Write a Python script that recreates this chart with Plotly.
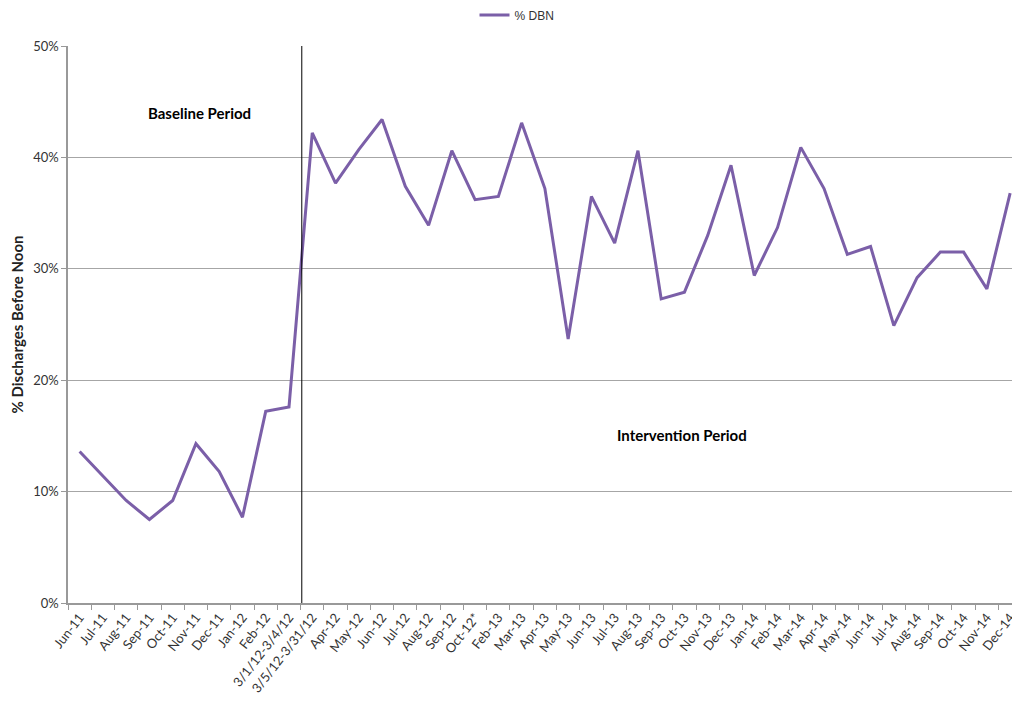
import plotly.graph_objects as go

categories = ["Jun-11", "Jul-11", "Aug-11", "Sep-11", "Oct-11", "Nov-11", "Dec-11",
              "Jan-12", "Feb-12", "3/1/12-3/4/12", "3/5/12-3/31/12", "Apr-12", "May-12",
              "Jun-12", "Jul-12", "Aug-12", "Sep-12", "Oct-12*", "Feb-13", "Mar-13",
              "Apr-13", "May-13", "Jun-13", "Jul-13", "Aug-13", "Sep-13", "Oct-13",
              "Nov-13", "Dec-13", "Jan-14", "Feb-14", "Mar-14", "Apr-14", "May-14",
              "Jun-14", "Jul-14", "Aug-14", "Sep-14", "Oct-14", "Nov-14", "Dec-14"]

dbn_pct = [13.6, 11.4, 9.2, 7.5, 9.2, 14.3, 11.8, 7.7, 17.2, 17.6,
           42.2, 37.7, 40.7, 43.4, 37.4, 33.9, 40.6, 36.2, 36.5, 43.1,
           37.2, 23.7, 36.5, 32.3, 40.6, 27.3, 27.9, 33.0, 39.3, 29.4,
           33.7, 40.9, 37.2, 31.3, 32.0, 24.9, 29.2, 31.5, 31.5, 28.2, 36.8]

y_ticks = [0, 10, 20, 30, 40, 50]
y_tick_labels = ["0%", "10%", "20%", "30%", "40%", "50%"]

# page is drawn with an 8px body margin; figure sized to fit the window without scrolling
W, H = 1004, 688
PL, PT, PB = 60, 38, 93
PW = W - PL
PH = H - PT - PB

fig = go.Figure()
fig.add_trace(go.Scatter(
    x=categories, y=dbn_pct, mode="lines", name="% DBN",
    line=dict(color="#7B5FA8", width=3),
))

fig.add_shape(type="line", xref="x", yref="paper", x0=9.55, x1=9.55, y0=0, y1=1,
              line=dict(color="#000000", width=1))

fig.add_annotation(text="<b>Baseline Period</b>", xref="paper", yref="paper",
                   x=(199 - 68) / PW, y=(603 - 113) / PH, showarrow=False,
                   xanchor="center", yanchor="middle",
                   font=dict(family="Lato", size=15, color="#000000"))
fig.add_annotation(text="<b>Intervention Period</b>", xref="paper", yref="paper",
                   x=(682 - 68) / PW, y=(603 - 435) / PH, showarrow=False,
                   xanchor="center", yanchor="middle",
                   font=dict(family="Lato", size=15, color="#000000"))

fig.update_layout(
    width=W, height=H,
    margin=dict(l=PL, r=0, t=PT, b=PB),
    paper_bgcolor="white", plot_bgcolor="white",
    showlegend=True,
    legend=dict(orientation="h", xref="container", yref="container",
                x=509 / W, xanchor="center", y=1 - 7 / H, yanchor="middle",
                font=dict(family="Liberation Sans", size=12, color="#333333")),
    xaxis=dict(
        type="category", range=[-0.5, 40.08], tickangle=-52, automargin=False,
        tickson="boundaries", ticks="outside", ticklen=5, tickcolor="#999999",
        showgrid=False, showline=True, linecolor="#999999", linewidth=1.5,
        tickfont=dict(family="Lato", size=13, color="#333333"),
    ),
    yaxis=dict(
        range=[0, 50], tickvals=y_ticks, ticktext=y_tick_labels, automargin=False,
        ticks="outside", ticklen=5, tickcolor="#999999",
        showgrid=True, gridcolor="#A6A6A6", gridwidth=1,
        showline=True, linecolor="#999999", linewidth=1.5, zeroline=False,
        tickfont=dict(family="Lato", size=13, color="#333333"),
        title=dict(text="<b>% Discharges Before Noon</b>", standoff=8,
                   font=dict(family="Lato", size=15, color="#222222")),
    ),
)

fig.write_html("out.html")
